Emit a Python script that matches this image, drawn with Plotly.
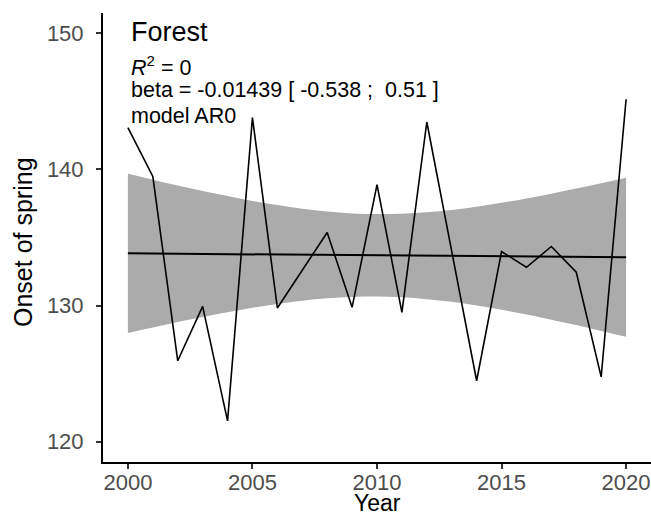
import plotly.graph_objects as go

# Onset of spring (day of year) for the forest site, 2000-2020
years = list(range(2000, 2021))
onset = [143.08, 139.49, 125.94, 129.94, 121.52, 143.81, 129.82, 132.60,
         135.37, 129.87, 138.88, 129.50, 143.49, 133.98, 124.47, 133.97,
         132.81, 134.34, 132.45, 124.76, 145.16]

# Linear trend: reported slope and level at the centre year
beta = -0.01439
beta_ci = (-0.538, 0.51)
level_2010 = 133.69
r_squared = 0
model_name = "AR0"
site = "Forest"

# Confidence band of the trend, per year
band_upper = [139.68, 139.25, 138.83, 138.42, 138.05, 137.69, 137.38, 137.11,
              136.91, 136.77, 136.72, 136.75, 136.85, 137.03, 137.26, 137.55,
              137.87, 138.22, 138.60, 138.99, 139.40]
band_lower = [127.98, 128.39, 128.79, 129.16, 129.51, 129.83, 130.12, 130.35,
              130.53, 130.63, 130.66, 130.61, 130.47, 130.27, 130.00, 129.69,
              129.34, 128.96, 128.56, 128.13, 127.70]

trend = [level_2010 + beta * (y - 2010) for y in years]

FONT = "Liberation Sans, Arial, sans-serif"

fig = go.Figure()

# ribbon: lower edge, then upper edge filled down to it
fig.add_trace(go.Scatter(
    x=years, y=band_lower, mode="lines",
    line=dict(width=0, shape="spline"),
    hoverinfo="skip", showlegend=False,
))
fig.add_trace(go.Scatter(
    x=years, y=band_upper, mode="lines",
    line=dict(width=0, shape="spline"),
    fill="tonexty", fillcolor="#ABABAB",
    hoverinfo="skip", showlegend=False,
))

# fitted trend
fig.add_trace(go.Scatter(
    x=years, y=trend, mode="lines",
    line=dict(color="black", width=2), showlegend=False,
))

# observed series
fig.add_trace(go.Scatter(
    x=years, y=onset, mode="lines",
    line=dict(color="black", width=1.6), showlegend=False,
))

labels = [
    (site, 150.1, 27),
    ("<i>R</i><sup>2</sup> = %g" % r_squared, 147.6, 21.5),
    ("beta = %.5f [ %g ;  %g ]" % (beta, beta_ci[0], beta_ci[1]), 145.85, 21.5),
    ("model %s" % model_name, 143.9, 21.5),
]
for text, yv, size in labels:
    fig.add_annotation(
        x=2000.05, y=yv, xref="x", yref="y", text=text, showarrow=False,
        xanchor="left", yanchor="middle",
        font=dict(family=FONT, size=size, color="black"),
    )

# axis titles
fig.add_annotation(
    x=0.5, y=-0.092, xref="paper", yref="paper", text="Year",
    showarrow=False, xanchor="center", yanchor="middle",
    font=dict(family=FONT, size=23, color="black"),
)
fig.add_annotation(
    x=-0.146, y=0.49, xref="paper", yref="paper", text="Onset of spring",
    textangle=-90, showarrow=False, xanchor="center", yanchor="middle",
    font=dict(family=FONT, size=25, color="black"),
)

axis_common = dict(
    showgrid=False, zeroline=False, showline=True, linecolor="black",
    linewidth=2, ticks="outside", ticklen=5, tickwidth=1.5,
    tickcolor="#333333", automargin=False,
    tickfont=dict(family=FONT, size=22, color="#4D4D4D"),
)

fig.update_xaxes(
    range=[1999, 2021], tickvals=[2000, 2005, 2010, 2015, 2020],
    ticklabelstandoff=-5,
    **axis_common,
)
fig.update_yaxes(
    range=[118.5, 151.5], tickvals=[120, 130, 140, 150],
    ticklabelstandoff=8,
    **axis_common,
)

fig.update_layout(
    width=651, height=517,
    margin=dict(l=103, r=0, t=13, b=55, pad=0),
    plot_bgcolor="white", paper_bgcolor="white",
    font=dict(family=FONT),
)

fig.write_html("out.html")
